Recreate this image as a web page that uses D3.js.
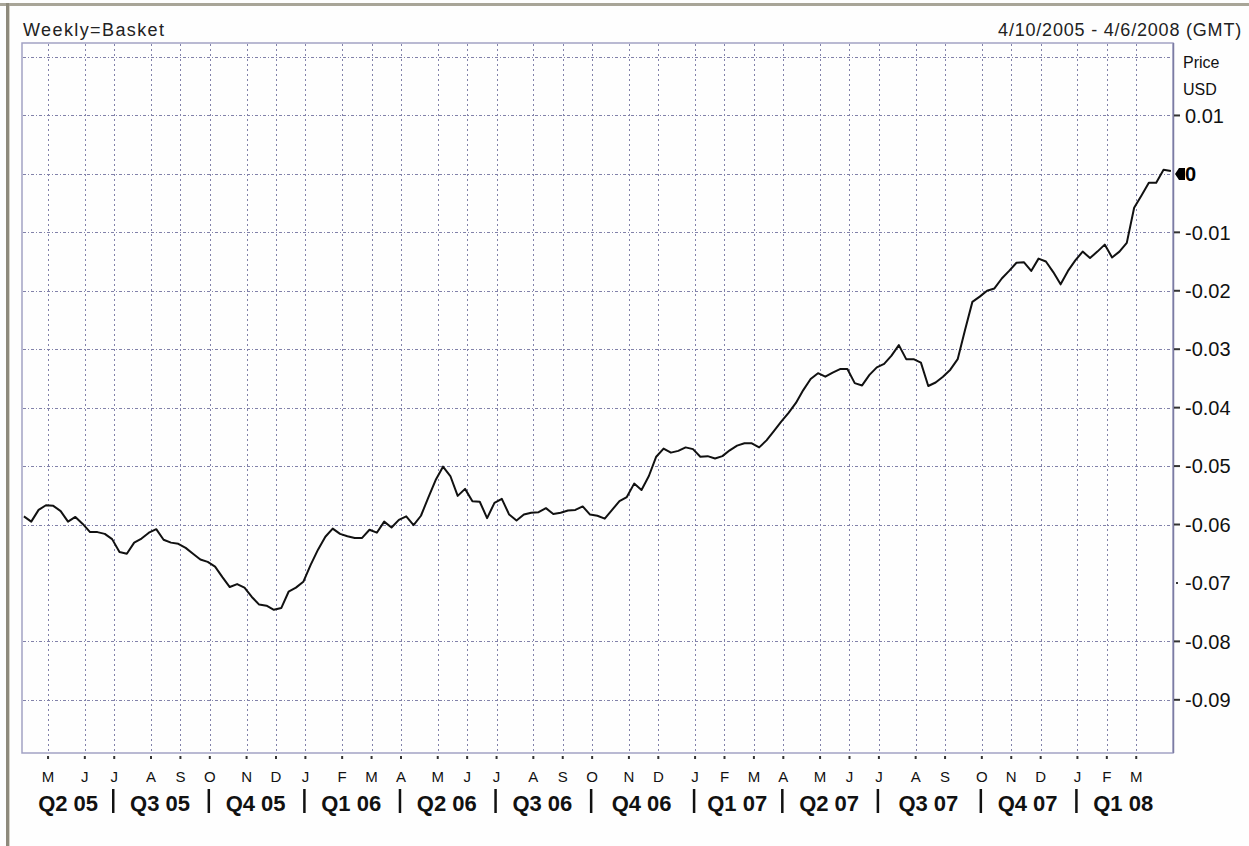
<!DOCTYPE html>
<html><head><meta charset="utf-8">
<script src="https://cdn.jsdelivr.net/npm/d3@7"></script>
<style>
body{margin:0;background:#fff;}
svg{display:block;font-family:"Liberation Sans",Arial,sans-serif;}
</style>
</head><body>
<svg id="c" width="1249" height="846"></svg>
<script>
// ---- data ----
const titleLeft = "Weekly=Basket";
const titleRight = "4/10/2005 - 4/6/2008 (GMT)";
const unitLabels = ["Price", "USD"];
const firstWeek = new Date(2005, 3, 8);     // weekly observations, first one
const domainStart = new Date(2005, 3, 10);
const domainEnd = new Date(2008, 3, 6);
const priceValues = [
 -0.0586,-0.0595,-0.0575,-0.0567,-0.0568,-0.0577,-0.0595,-0.0587,-0.0599,-0.0613,
 -0.0613,-0.0616,-0.0625,-0.0647,-0.0650,-0.0631,-0.0624,-0.0614,-0.0608,-0.0626,
 -0.0631,-0.0633,-0.0640,-0.0650,-0.0660,-0.0664,-0.0672,-0.0690,-0.0707,-0.0702,
 -0.0708,-0.0724,-0.0737,-0.0739,-0.0746,-0.0743,-0.0715,-0.0708,-0.0698,-0.0669,
 -0.0643,-0.0621,-0.0607,-0.0616,-0.0620,-0.0623,-0.0623,-0.0609,-0.0614,-0.0595,
 -0.0605,-0.0592,-0.0586,-0.0601,-0.0585,-0.0554,-0.0524,-0.0501,-0.0517,-0.0551,
 -0.0539,-0.0560,-0.0561,-0.0589,-0.0563,-0.0556,-0.0583,-0.0593,-0.0583,-0.0580,
 -0.0579,-0.0572,-0.0582,-0.0580,-0.0576,-0.0575,-0.0569,-0.0583,-0.0585,-0.0590,
 -0.0575,-0.0560,-0.0553,-0.0530,-0.0541,-0.0517,-0.0484,-0.0470,-0.0477,-0.0474,
 -0.0468,-0.0471,-0.0484,-0.0483,-0.0487,-0.0483,-0.0473,-0.0465,-0.0461,-0.0461,
 -0.0468,-0.0456,-0.0440,-0.0424,-0.0409,-0.0392,-0.0370,-0.0351,-0.0341,-0.0347,
 -0.0340,-0.0334,-0.0334,-0.0358,-0.0362,-0.0344,-0.0331,-0.0325,-0.0311,-0.0293,
 -0.0317,-0.0317,-0.0323,-0.0363,-0.0357,-0.0347,-0.0335,-0.0317,-0.0267,-0.0219,
 -0.0210,-0.0200,-0.0196,-0.0179,-0.0166,-0.0152,-0.0151,-0.0166,-0.0145,-0.0150,
 -0.0168,-0.0189,-0.0166,-0.0148,-0.0133,-0.0144,-0.0133,-0.0121,-0.0143,-0.0133,
 -0.0118,-0.0058,-0.0037,-0.0015,-0.0015,0.0007,0.0005
];
const monthLabels = ["M","J","J","A","S","O","N","D","J","F","M","A",
                     "M","J","J","A","S","O","N","D","J","F","M","A",
                     "M","J","J","A","S","O","N","D","J","F","M"];
const firstMonth = new Date(2005, 4, 1);
const quarterLabels = ["Q2 05","Q3 05","Q4 05","Q1 06","Q2 06","Q3 06",
                       "Q4 06","Q1 07","Q2 07","Q3 07","Q4 07","Q1 08"];
const yTickValues = [0.01, 0, -0.01, -0.02, -0.03, -0.04, -0.05, -0.06, -0.07, -0.08, -0.09];
const yTickLabels = ["0.01", "0", "-0.01", "-0.02", "-0.03", "-0.04", "-0.05", "-0.06", "-0.07", "-0.08", "-0.09"];
const yGridValues = [0.02, 0.01, 0, -0.01, -0.02, -0.03, -0.04, -0.05, -0.06, -0.08, -0.09];
const lastLabel = "0";

// ---- layout ----
const W = 1249, H = 846;
const L = 22, R = 1173, T = 43, B = 753;
const svg = d3.select("#c");

const x = d3.scaleTime().domain([domainStart, domainEnd]).range([26, R]);
const y = d3.scaleLinear().domain([-0.0991, 0.0224]).range([B, T]);

const data = priceValues.map((v, i) => ({date: d3.timeWeek.offset(firstWeek, i), v}));
const monthTicks = monthLabels.map((m, i) => ({
  label: m,
  date: d3.timeSunday.ceil(d3.timeMonth.offset(firstMonth, i))
}));

// outer window frame
svg.append("rect").attr("x", 0).attr("y", 0).attr("width", W).attr("height", H).attr("fill", "#fefefe");
svg.append("rect").attr("x", 0).attr("y", 3).attr("width", W).attr("height", 3).attr("fill", "#a8a598");
svg.append("rect").attr("x", 6).attr("y", 3).attr("width", 3).attr("height", H).attr("fill", "#8e8a7c");
svg.append("rect").attr("x", 9).attr("y", 6).attr("width", 1).attr("height", H).attr("fill", "#d6d3c8");

// headers
svg.append("text").attr("x", 23).attr("y", 36).attr("font-size", 18).attr("letter-spacing", 1.4)
  .attr("fill", "#222").text(titleLeft);
svg.append("text").attr("x", 1242).attr("y", 36).attr("font-size", 18).attr("text-anchor", "end")
  .attr("letter-spacing", 0.8).attr("fill", "#222").text(titleRight);

// plot frame
svg.append("rect").attr("x", L).attr("y", T).attr("width", R - L).attr("height", B - T)
  .attr("fill", "none").attr("stroke", "#a2a2c4").attr("stroke-width", 1.5);

// grid
const grid = svg.append("g");
grid.selectAll("line.v").data(monthTicks).enter().append("line")
  .attr("x1", d => Math.round(x(d.date)) + 0.5).attr("x2", d => Math.round(x(d.date)) + 0.5)
  .attr("y1", T + 1).attr("y2", B - 1)
  .attr("stroke", "#8282aa").attr("stroke-width", 1).attr("stroke-dasharray", "2,3");
grid.selectAll("line.h").data(yGridValues).enter().append("line")
  .attr("x1", L + 1).attr("x2", R - 1)
  .attr("y1", d => Math.round(y(d)) + 0.5).attr("y2", d => Math.round(y(d)) + 0.5)
  .attr("stroke", "#8282aa").attr("stroke-width", 1).attr("stroke-dasharray", "3,2,1,2");

// right axis line
svg.append("line").attr("x1", R + 0.5).attr("x2", R + 0.5).attr("y1", T).attr("y2", B)
  .attr("stroke", "#7c7ca2").attr("stroke-width", 1.5);

// price line
svg.append("path").datum(data)
  .attr("d", d3.line().x(d => x(d.date)).y(d => y(d.v)))
  .attr("fill", "none").attr("stroke", "#111").attr("stroke-width", 2).attr("stroke-linejoin", "round");

// y ticks & labels
const yt = svg.append("g");
yTickValues.forEach((v, i) => {
  const yy = y(v);
  if (v === 0) return;
  const minor = (v === -0.07);
  yt.append("line").attr("x1", minor ? R + 3 : R + 1).attr("x2", minor ? R + 5 : R + 7)
    .attr("y1", yy).attr("y2", yy).attr("stroke", "#333").attr("stroke-width", 2);
  yt.append("text").attr("x", 1185).attr("y", yy).attr("dy", "0.36em")
    .attr("font-size", 20).attr("fill", "#111").text(yTickLabels[i]);
});
// last-value marker
const ly = y(0);
svg.append("path")
  .attr("d", `M${R + 2},${ly} L${R + 6},${ly - 6} L${R + 12},${ly - 6} L${R + 12},${ly + 6} L${R + 6},${ly + 6} Z`)
  .attr("fill", "#000");
svg.append("text").attr("x", R + 12).attr("y", ly).attr("dy", "0.36em")
  .attr("font-size", 20).attr("font-weight", "bold").attr("fill", "#000").text(lastLabel);

// unit labels
svg.append("text").attr("x", 1183).attr("y", 68).attr("font-size", 16).attr("fill", "#111").text(unitLabels[0]);
svg.append("text").attr("x", 1183).attr("y", 95).attr("font-size", 16).attr("fill", "#111").text(unitLabels[1]);

// month ticks + labels
const xt = svg.append("g");
xt.selectAll("line").data(monthTicks).enter().append("line")
  .attr("x1", d => x(d.date)).attr("x2", d => x(d.date))
  .attr("y1", B + 3).attr("y2", B + 6).attr("stroke", "#333").attr("stroke-width", 2);
xt.selectAll("text").data(monthTicks).enter().append("text")
  .attr("x", d => x(d.date)).attr("y", 782).attr("text-anchor", "middle")
  .attr("font-size", 15).attr("fill", "#111").text(d => d.label);

// quarter labels
const qBounds = monthTicks.filter((d, i) => i % 3 === 2).map(d => x(d.date));
const qEdges = [x(domainStart)].concat(qBounds, [R]);
const qg = svg.append("g");
quarterLabels.forEach((q, i) => {
  const cx = (qEdges[i] + qEdges[i + 1]) / 2 - 2;
  qg.append("text").attr("x", cx).attr("y", 811).attr("text-anchor", "middle")
    .attr("font-size", 22).attr("font-weight", "bold").attr("fill", "#111").text(q);
});
qg.selectAll("line").data(qBounds).enter().append("line")
  .attr("x1", d => d - 1).attr("x2", d => d - 1).attr("y1", 789).attr("y2", 813)
  .attr("stroke", "#111").attr("stroke-width", 2.5);
</script>
</body></html>
